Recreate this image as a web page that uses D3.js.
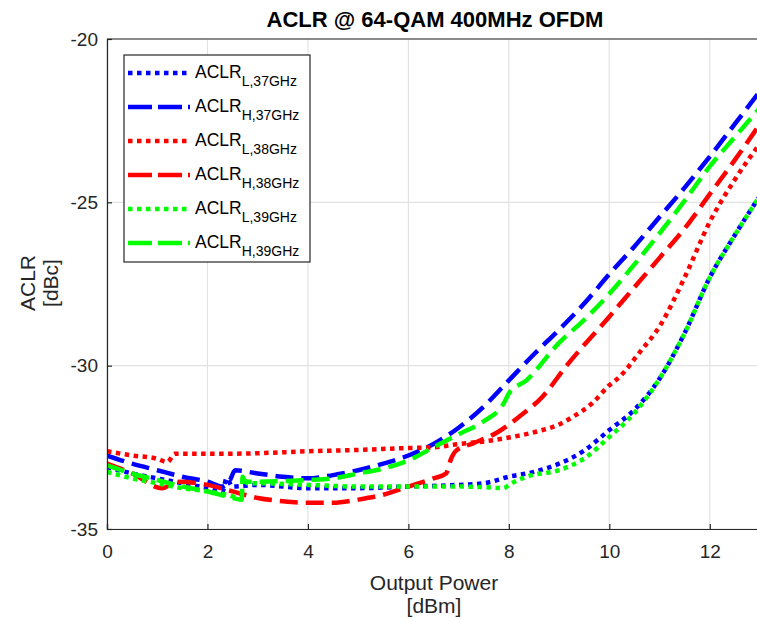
<!DOCTYPE html>
<html><head><meta charset="utf-8">
<script src="https://cdn.jsdelivr.net/npm/d3@7"></script>
<style>body{margin:0;background:#fff}svg{display:block;font-family:"Liberation Sans",Arial,sans-serif}</style>
</head><body>
<svg id="c" width="757" height="622"></svg>
<script>
const xTicks = [0, 2, 4, 6, 8, 10, 12];
const yTicks = [-20, -25, -30, -35];
const seriesNames = ["L,37GHz", "H,37GHz", "L,38GHz", "H,38GHz", "L,39GHz", "H,39GHz"];
const seriesColors = ["#0000ff", "#0000ff", "#ff0000", "#ff0000", "#00ff00", "#00ff00"];
const seriesDash = ["dot", "dash", "dot", "dash", "dot", "dash"];

const aclrL37 = [[0,-33.1],[0.5,-33.3],[1,-33.45],[1.5,-33.6],[2,-33.75],[2.3,-33.85],[2.38,-33.45],[2.5,-33.7],[3,-33.65],[4,-33.75],[5,-33.75],[6,-33.7],[7,-33.65],[7.5,-33.6],[8,-33.4],[8.5,-33.25],[9,-33.0],[9.5,-32.6],[10,-31.97],[10.5,-31.35],[11,-30.4],[11.5,-29.0],[12,-27.3],[12.5,-26.0],[13,-24.8]];
const aclrH37 = [[0,-32.75],[0.5,-33.0],[1,-33.2],[1.5,-33.4],[2,-33.55],[2.3,-33.7],[2.45,-33.5],[2.55,-33.2],[3,-33.3],[3.5,-33.4],[4,-33.45],[4.5,-33.35],[5,-33.2],[5.5,-33.0],[6,-32.75],[6.5,-32.4],[7,-31.9],[7.5,-31.25],[8,-30.45],[8.5,-29.65],[9,-28.9],[9.5,-28.1],[10,-27.2],[10.5,-26.35],[11,-25.45],[11.5,-24.55],[12,-23.6],[12.5,-22.6],[13,-21.6]];
const aclrL38 = [[0,-32.62],[0.5,-32.75],[1,-32.85],[1.2,-32.95],[1.35,-32.7],[2,-32.7],[3,-32.68],[4,-32.62],[5,-32.58],[6,-32.52],[6.5,-32.5],[7,-32.4],[7.6,-32.3],[8,-32.2],[8.6,-32.0],[9,-31.8],[9.27,-31.57],[9.66,-31.15],[10,-30.6],[10.2,-30.35],[10.6,-29.6],[11,-28.8],[11.5,-27.3],[12,-25.6],[12.5,-24.3],[13,-23.2]];
const aclrH38 = [[0,-33.0],[0.5,-33.3],[1.1,-33.75],[1.4,-33.55],[2,-33.65],[2.5,-33.85],[3,-34.05],[3.5,-34.15],[4,-34.2],[4.5,-34.2],[5,-34.1],[5.5,-33.95],[6,-33.7],[6.5,-33.45],[6.75,-33.3],[6.85,-32.85],[6.95,-32.6],[7.3,-32.37],[7.75,-32.06],[8.2,-31.57],[8.67,-30.95],[9.15,-30.0],[10,-28.5],[10.5,-27.6],[11,-26.7],[11.5,-25.8],[12,-24.75],[12.5,-23.7],[13,-22.6]];
const aclrL39 = [[0,-33.25],[0.5,-33.45],[1,-33.6],[1.5,-33.75],[2,-33.85],[2.5,-34.0],[2.68,-34.1],[2.7,-33.45],[2.8,-33.6],[3,-33.6],[4,-33.65],[5,-33.7],[6,-33.7],[7,-33.7],[7.5,-33.72],[7.9,-33.75],[8,-33.65],[8.35,-33.4],[9,-33.2],[9.54,-32.8],[10,-32.18],[10.5,-31.45],[11,-30.4],[11.5,-29.0],[12,-27.3],[12.5,-26.0],[13,-24.8]];
const aclrH39 = [[0,-33.05],[0.5,-33.3],[1,-33.5],[1.5,-33.7],[2,-33.85],[2.5,-34.05],[2.68,-34.1],[2.7,-33.4],[2.75,-33.55],[3,-33.55],[4,-33.5],[4.5,-33.45],[5,-33.3],[5.5,-33.15],[6,-32.9],[6.5,-32.5],[7,-32.1],[7.5,-31.7],[7.9,-31.15],[8.0,-30.85],[8.35,-30.45],[9,-29.3],[9.5,-28.6],[10,-27.8],[10.5,-26.9],[11,-25.95],[11.5,-24.95],[12,-23.9],[12.5,-23.0],[13,-22.1]];
const seriesData = [aclrL37, aclrH37, aclrL38, aclrH38, aclrL39, aclrH39];

const svg = d3.select("#c");
const x = d3.scaleLinear().domain([0, 13]).range([107, 760]);
const y = d3.scaleLinear().domain([-35, -20]).range([529, 39]);
const axisCol = "#262626";
const fmt = d => String(d);

// grid
const grid = svg.append("g");
grid.selectAll(".gx").data(xTicks).enter().append("line")
  .attr("x1", d => x(d)).attr("x2", d => x(d)).attr("y1", y(-35)).attr("y2", y(-20))
  .attr("stroke", "#e2e2e2").attr("stroke-width", 1.2);
grid.selectAll(".gy").data(yTicks).enter().append("line")
  .attr("x1", x(0)).attr("x2", x(13)).attr("y1", d => y(d)).attr("y2", d => y(d))
  .attr("stroke", "#e2e2e2").attr("stroke-width", 1.2);

// series
const dashFor = k => k === "dot" ? "4.5,4.5" : "18,8";
const line = d3.line().x(d => x(d[0])).y(d => y(d[1])).curve(d3.curveMonotoneX);
svg.append("clipPath").attr("id", "pc").append("rect")
  .attr("x", x(0)).attr("y", y(-20)).attr("width", x(13) - x(0)).attr("height", y(-35) - y(-20));
const plot = svg.append("g").attr("clip-path", "url(#pc)");
seriesData.forEach((s, i) => {
  plot.append("path").attr("d", line(s)).attr("fill", "none")
    .attr("stroke", seriesColors[i]).attr("stroke-width", 4.5)
    .attr("stroke-dasharray", dashFor(seriesDash[i]))
    .attr("stroke-linejoin", "round");
});

// axes
const xAxis = d3.axisBottom(x).tickValues(xTicks).tickSize(-5).tickPadding(16).tickFormat(fmt);
const yAxis = d3.axisLeft(y).tickValues(yTicks).tickSize(-5).tickPadding(9).tickFormat(fmt);
const gx = svg.append("g").attr("transform", `translate(0,${y(-35)})`).call(xAxis);
const gy = svg.append("g").attr("transform", `translate(${x(0)},0)`).call(yAxis);
[gx, gy].forEach(g => {
  g.select(".domain").attr("stroke", axisCol).attr("stroke-width", 1.2);
  g.selectAll(".tick line").attr("stroke", axisCol).attr("stroke-width", 1.2);
  g.selectAll(".tick text").attr("fill", axisCol).attr("font-size", 19)
    .attr("font-family", "Liberation Sans, Arial, sans-serif");
});
svg.append("line").attr("x1", x(0)).attr("x2", x(13)).attr("y1", y(-20)).attr("y2", y(-20))
  .attr("stroke", axisCol).attr("stroke-width", 1.2);

// title & labels
svg.append("text").attr("x", 435).attr("y", 27).attr("text-anchor", "middle")
  .attr("font-size", 22).attr("font-weight", "bold").attr("fill", "#000")
  .text("ACLR @ 64-QAM 400MHz OFDM");
svg.append("text").attr("x", 434).attr("y", 590).attr("text-anchor", "middle")
  .attr("font-size", 21).attr("fill", axisCol).text("Output Power");
svg.append("text").attr("x", 434).attr("y", 613).attr("text-anchor", "middle")
  .attr("font-size", 21).attr("fill", axisCol).text("[dBm]");
svg.append("text").attr("transform", "translate(35,283) rotate(-90)").attr("text-anchor", "middle")
  .attr("font-size", 21).attr("fill", axisCol).text("ACLR");
svg.append("text").attr("transform", "translate(58,283) rotate(-90)").attr("text-anchor", "middle")
  .attr("font-size", 21).attr("fill", axisCol).text("[dBc]");

// legend
const lg = svg.append("g");
lg.append("rect").attr("x", 124).attr("y", 55).attr("width", 186).attr("height", 207)
  .attr("fill", "#fff").attr("stroke", axisCol).attr("stroke-width", 1.2);
seriesNames.forEach((n, i) => {
  const cy = 73 + i * 34;
  lg.append("line").attr("x1", 128).attr("x2", 190).attr("y1", cy).attr("y2", cy)
    .attr("stroke", seriesColors[i]).attr("stroke-width", 4.5)
    .attr("stroke-dasharray", seriesDash[i] === "dot" ? "4.5,4.5" : "24,6");
  const t = lg.append("text").attr("x", 195).attr("y", cy + 5).attr("font-size", 17.5).attr("fill", "#000");
  t.append("tspan").text("ACLR");
  t.append("tspan").attr("dy", 8).attr("font-size", 14).text(n);
});
</script>
</body></html>
